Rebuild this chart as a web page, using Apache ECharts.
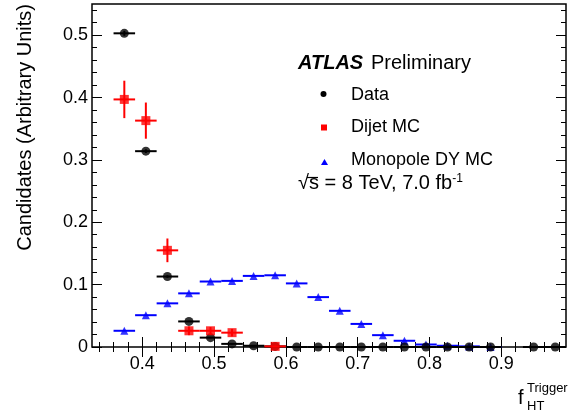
<!DOCTYPE html>
<html>
<head>
<meta charset="utf-8">
<script src="https://cdn.jsdelivr.net/npm/echarts@6/dist/echarts.min.js"></script>
<style>
  html, body { margin: 0; padding: 0; background: #fff; }
  #chart { width: 568px; height: 416px; }
</style>
</head>
<body>
<div id="chart"></div>
<script>
// bin centres of f_HT^Trigger (bin width 0.03)
const binCenters = [0.375, 0.405, 0.435, 0.465, 0.495, 0.525, 0.555, 0.585, 0.615, 0.645, 0.675,
                    0.705, 0.735, 0.765, 0.795, 0.825, 0.855, 0.885, 0.915, 0.945, 0.975];
const binHalfWidth = 0.015;

const dataValues = [0.503, 0.314, 0.113, 0.041, 0.015, 0.005, 0.002, 0.001, 0, 0, 0,
                    0, 0, 0, 0, 0, 0, 0, null, 0, 0];
const dataErrors = [0.004, 0.003, 0.002, 0.001, 0.001, 0.001, 0, 0, 0, 0, 0,
                    0, 0, 0, 0, 0, 0, 0, null, 0, 0];

const dijetValues = [0.397, 0.363, 0.155, 0.026, 0.026, 0.023, null, 0.001];
const dijetErrors = [0.030, 0.029, 0.019, 0.007, 0.006, 0.006, null, 0.001];

const monopoleValues = [0.026, 0.051, 0.070, 0.086, 0.105, 0.106, 0.114, 0.115, 0.102, 0.080, 0.058,
                        0.037, 0.019, 0.010, 0.004, 0.002, 0.001, 0.000];

const xMajorTicks = [0.4, 0.5, 0.6, 0.7, 0.8, 0.9];
const xMinorTicks = [0.34, 0.36, 0.38, 0.42, 0.44, 0.46, 0.48, 0.52, 0.54, 0.56, 0.58, 0.62, 0.64, 0.66,
                     0.68, 0.72, 0.74, 0.76, 0.78, 0.82, 0.84, 0.86, 0.88, 0.92, 0.94, 0.96, 0.98];
const yMajorTicks = [0, 0.1, 0.2, 0.3, 0.4, 0.5];
const yMinorTicks = [0.02, 0.04, 0.06, 0.08, 0.12, 0.14, 0.16, 0.18, 0.22, 0.24, 0.26, 0.28,
                     0.32, 0.34, 0.36, 0.38, 0.42, 0.44, 0.46, 0.48, 0.52, 0.54];

const FONT = 'Liberation Sans, Arial, Helvetica, sans-serif';

function points(values, errors) {
  const out = [];
  values.forEach((v, i) => {
    if (v === null) return;
    out.push([binCenters[i], v, errors ? errors[i] : 0]);
  });
  return out;
}

function errorBars(color) {
  return function (params, api) {
    const x = api.value(0), y = api.value(1), e = api.value(2);
    const l = api.coord([x - binHalfWidth, y]);
    const r = api.coord([x + binHalfWidth, y]);
    const t = api.coord([x, y + e]);
    const b = api.coord([x, y - e]);
    const style = { stroke: color, lineWidth: 2 };
    return {
      type: 'group',
      children: [
        { type: 'line', shape: { x1: l[0], y1: l[1], x2: r[0], y2: r[1] }, style },
        { type: 'line', shape: { x1: t[0], y1: t[1], x2: b[0], y2: b[1] }, style }
      ]
    };
  };
}

function xAxisDef(position, ticks, len, labels) {
  return {
    type: 'value', position, min: 0.33, max: 0.99,
    axisLine: { show: false },
    splitLine: { show: false },
    axisTick: { show: true, inside: true, length: len, customValues: ticks,
                lineStyle: { color: '#000', width: 1 } },
    axisLabel: labels ? { show: true, customValues: ticks, margin: 8, fontSize: 18, color: '#000',
                          fontFamily: FONT, formatter: v => v.toFixed(1) } : { show: false }
  };
}

function yAxisDef(position, ticks, len, labels) {
  return {
    type: 'value', position, min: 0, max: 0.55,
    axisLine: { show: false },
    splitLine: { show: false },
    axisTick: { show: true, inside: true, length: len, customValues: ticks,
                lineStyle: { color: '#000', width: 1 } },
    axisLabel: labels ? { show: true, customValues: ticks, margin: 4, fontSize: 18, color: '#000',
                          fontFamily: FONT, formatter: v => v === 0 ? '0' : v.toFixed(1) } : { show: false }
  };
}

const chart = echarts.init(document.getElementById('chart'), null, { renderer: 'canvas' });

chart.setOption({
  animation: false,
  backgroundColor: '#fff',
  grid: {
    left: 92, right: 2, top: 4, bottom: 69,
    show: true, borderColor: '#000', borderWidth: 1.5, backgroundColor: 'transparent'
  },
  xAxis: [
    xAxisDef('bottom', xMajorTicks, 10, true),
    xAxisDef('bottom', xMinorTicks, 5, false),
    xAxisDef('top', xMajorTicks, 10, false),
    xAxisDef('top', xMinorTicks, 5, false)
  ],
  yAxis: [
    yAxisDef('left', yMajorTicks, 10, true),
    yAxisDef('left', yMinorTicks, 5, false),
    yAxisDef('right', yMajorTicks, 10, false),
    yAxisDef('right', yMinorTicks, 5, false)
  ],
  series: [
    {
      name: 'Monopole DY MC bars', type: 'custom', renderItem: errorBars('#0000ff'),
      data: points(monopoleValues), z: 2, silent: true
    },
    {
      name: 'Monopole DY MC', type: 'scatter', symbol: 'triangle', symbolSize: 8,
      itemStyle: { color: '#0000ff' }, data: points(monopoleValues), z: 3
    },
    {
      name: 'Data bars', type: 'custom', renderItem: errorBars('#000'),
      data: points(dataValues, dataErrors), z: 4, silent: true
    },
    {
      name: 'Data', type: 'scatter', symbol: 'circle', symbolSize: 9,
      itemStyle: { color: '#000' }, data: points(dataValues, dataErrors), z: 5
    },
    {
      name: 'Dijet MC bars', type: 'custom', renderItem: errorBars('#ff0000'),
      data: points(dijetValues, dijetErrors), z: 6, silent: true
    },
    {
      name: 'Dijet MC', type: 'scatter', symbol: 'rect', symbolSize: 9,
      itemStyle: { color: '#ff0000' }, data: points(dijetValues, dijetErrors), z: 7
    }
  ],
  graphic: [
    // y axis title
    {
      type: 'text', x: 25, y: 4, rotation: Math.PI / 2,
      style: { text: 'Candidates (Arbitrary Units)', fill: '#000', font: '20px ' + FONT,
               align: 'right', verticalAlign: 'middle' }
    },
    // x axis title
    { type: 'text', x: 518, y: 398, style: { text: 'f', fill: '#000', font: '20px ' + FONT, verticalAlign: 'middle' } },
    { type: 'text', x: 527, y: 388, style: { text: 'Trigger', fill: '#000', font: '13px ' + FONT, verticalAlign: 'middle' } },
    { type: 'text', x: 527, y: 406, style: { text: 'HT', fill: '#000', font: '13px ' + FONT, verticalAlign: 'middle' } },
    // ATLAS label
    { type: 'text', x: 298, y: 63, style: { text: 'ATLAS', fill: '#000', font: 'italic bold 20px ' + FONT, verticalAlign: 'middle' } },
    { type: 'text', x: 371, y: 63, style: { text: 'Preliminary', fill: '#000', font: '20px ' + FONT, verticalAlign: 'middle' } },
    // legend
    { type: 'circle', shape: { cx: 323.5, cy: 94, r: 3 }, style: { fill: '#000' } },
    { type: 'text', x: 351, y: 95, style: { text: 'Data', fill: '#000', font: '18px ' + FONT, verticalAlign: 'middle' } },
    { type: 'rect', shape: { x: 321, y: 124.5, width: 6, height: 6 }, style: { fill: '#ff0000' } },
    { type: 'text', x: 351, y: 127, style: { text: 'Dijet MC', fill: '#000', font: '18px ' + FONT, verticalAlign: 'middle' } },
    { type: 'polygon', shape: { points: [[324.5, 159], [321, 165], [328, 165]] }, style: { fill: '#0000ff' } },
    { type: 'text', x: 351, y: 160, style: { text: 'Monopole DY MC', fill: '#000', font: '18px ' + FONT, verticalAlign: 'middle' } },
    // energy / luminosity
    {
      type: 'text', x: 298, y: 194,
      style: {
        text: '{r|√s} = 8 TeV, 7.0 fb{sup|-1}', fill: '#000', font: '20px ' + FONT, verticalAlign: 'bottom',
        rich: {
          r: { fontSize: 20, fontFamily: FONT, fill: '#000' },
          sup: { fontSize: 12, fontFamily: FONT, fill: '#000', verticalAlign: 'top', padding: [0, 0, 9, 0] }
        }
      }
    },
    { type: 'line', shape: { x1: 307, y1: 177.5, x2: 318, y2: 177.5 }, style: { stroke: '#000', lineWidth: 1.2 } }
  ]
});
</script>
</body>
</html>
